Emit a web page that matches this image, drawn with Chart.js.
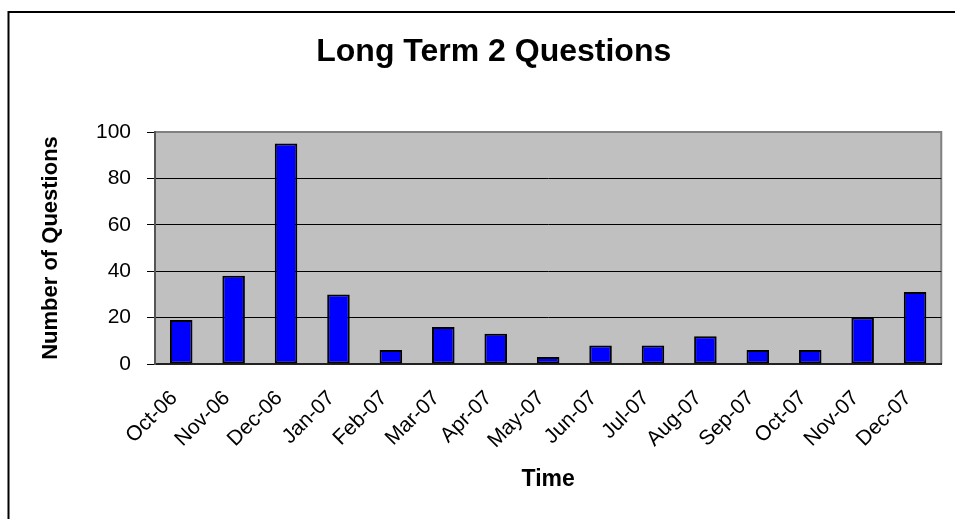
<!DOCTYPE html>
<html>
<head>
<meta charset="utf-8">
<script src="https://cdn.jsdelivr.net/npm/chart.js@4.4.1/dist/chart.umd.min.js"></script>
<style>
  html, body { margin: 0; padding: 0; background: #ffffff; }
  #wrap { width: 955px; height: 519px; }
</style>
</head>
<body>
<div id="wrap"><canvas id="c" width="955" height="519"></canvas></div>
<script>
const categories = ["Oct-06","Nov-06","Dec-06","Jan-07","Feb-07","Mar-07","Apr-07","May-07","Jun-07","Jul-07","Aug-07","Sep-07","Oct-07","Nov-07","Dec-07"];
const questions = [19, 38, 95, 30, 6, 16, 13, 3, 8, 8, 12, 6, 6, 20, 31];
const yTicks = [0, 20, 40, 60, 80, 100];
const chartTitle = "Long Term 2 Questions";
const xTitle = "Time";
const yTitle = "Number of Questions";

const FONT = "Arial, 'Liberation Sans', sans-serif";

const backdrop = {
  id: 'backdrop',
  beforeDraw(chart) {
    const ctx = chart.ctx;
    const a = chart.chartArea;
    ctx.save();
    ctx.fillStyle = '#ffffff';
    ctx.fillRect(0, 0, chart.width, chart.height);
    // outer frame
    ctx.strokeStyle = '#000000';
    ctx.lineWidth = 2;
    ctx.beginPath();
    ctx.moveTo(8.5, chart.height + 2);
    ctx.lineTo(8.5, 12);
    ctx.lineTo(chart.width + 2, 12);
    ctx.stroke();
    // plot area
    ctx.fillStyle = '#C0C0C0';
    ctx.fillRect(a.left, a.top, a.right - a.left, a.bottom - a.top);
    ctx.strokeStyle = '#808080';
    ctx.lineWidth = 2;
    ctx.beginPath();
    ctx.moveTo(a.left, a.top);
    ctx.lineTo(a.right, a.top);
    ctx.lineTo(a.right, a.bottom);
    ctx.stroke();
    ctx.restore();
  }
};

new Chart(document.getElementById('c'), {
  type: 'bar',
  data: {
    labels: categories,
    datasets: [{
      label: yTitle,
      data: questions,
      backgroundColor: '#0000FF',
      borderColor: '#000000',
      borderWidth: 2,
      borderSkipped: false,
      barPercentage: 0.43,
      categoryPercentage: 1.0
    }]
  },
  options: {
    responsive: false,
    animation: false,
    devicePixelRatio: 1,
    layout: { padding: { left: 36, right: 3.5, top: 0, bottom: 0 } },
    plugins: {
      legend: { display: false },
      tooltip: { enabled: false },
      title: {
        display: true,
        text: chartTitle,
        color: '#000000',
        font: { family: FONT, size: 32, weight: 'bold' },
        padding: { top: 32.8, bottom: 60.8 }
      }
    },
    scales: {
      x: {
        grid: { display: false, drawTicks: false },
        border: { display: true, color: '#222222', width: 2 },
        ticks: {
          autoSkip: false,
          minRotation: 45,
          maxRotation: 45,
          padding: 22,
          labelOffset: -7,
          color: '#000000',
          font: { family: FONT, size: 21 }
        },
        title: {
          display: true,
          text: xTitle,
          color: '#000000',
          font: { family: FONT, size: 23, weight: 'bold' },
          padding: { top: 0, bottom: 25.2 }
        },
        afterFit(scale) { scale.height = 155; }
      },
      y: {
        min: 0,
        max: 100,
        afterBuildTicks(scale) { scale.ticks = yTicks.map(v => ({ value: v })); },
        grid: {
          color: (c) => (c.tick && c.tick.value === 100) ? '#808080' : '#000000',
          tickColor: '#000000',
          lineWidth: 1,
          tickLength: 8
        },
        border: { display: true, color: '#555555', width: 2 },
        ticks: {
          padding: 16,
          color: '#000000',
          font: { family: FONT, size: 21 }
        },
        title: {
          display: true,
          text: yTitle,
          color: '#000000',
          font: { family: FONT, size: 22, weight: 'bold' },
          padding: { top: 1.3, bottom: 0 }
        },
        afterFit(scale) { scale.width = 119; }
      }
    }
  },
  plugins: [backdrop]
});
</script>
</body>
</html>
